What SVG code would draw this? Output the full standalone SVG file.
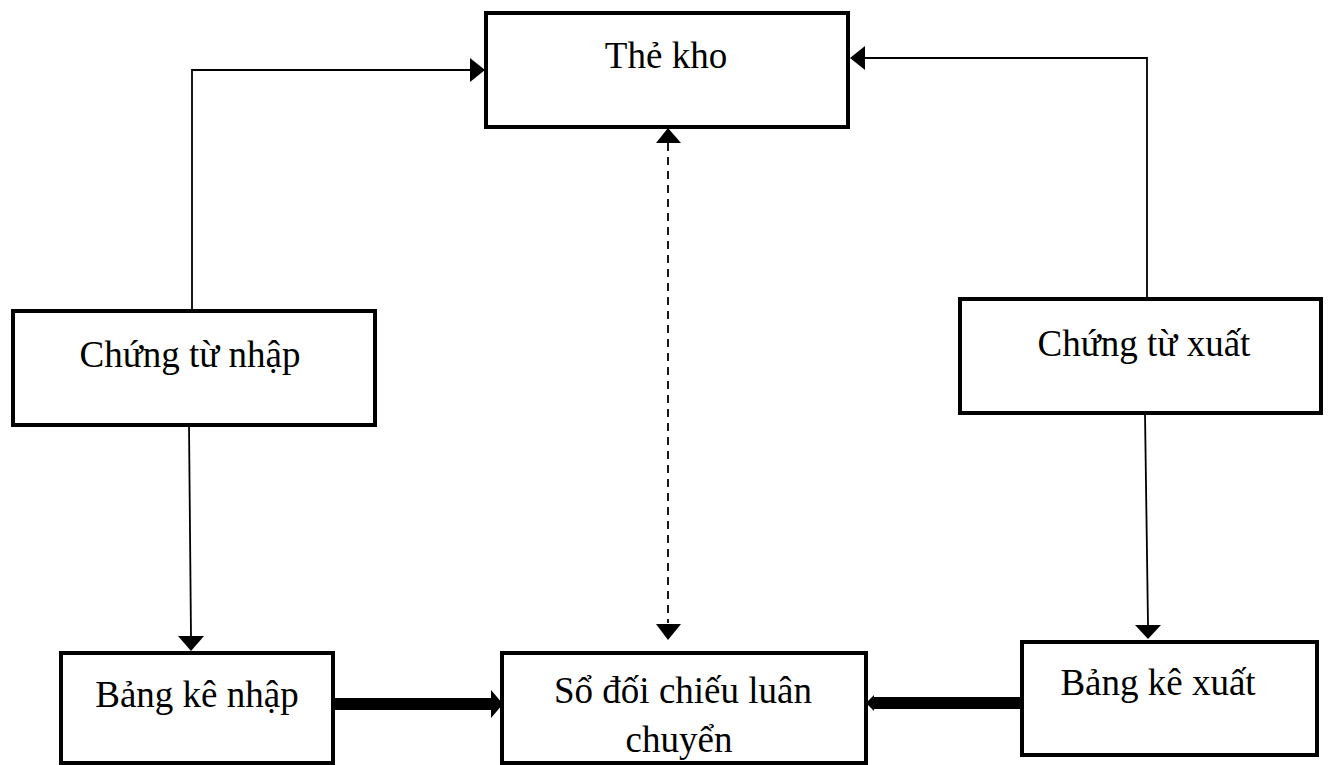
<svg xmlns="http://www.w3.org/2000/svg" width="1329" height="765" viewBox="0 0 1329 765">
<style>
.box{fill:#fff;stroke:#000;stroke-width:4}
.t{font-family:"Liberation Serif",serif;font-size:37px;fill:#000;text-anchor:middle}
.thin{fill:none;stroke:#000;stroke-width:1.8}
.dash{fill:none;stroke:#000;stroke-width:1.8;stroke-dasharray:8,6}
.thick{fill:none;stroke:#000;stroke-width:12}
</style>
<rect width="1329" height="765" fill="#fff"/>
<g id="connectors">
<polyline class="thin" points="192,310 192,70 470,70"/>
<path d="M470,58 L485,70 L470,82 Z"/>
<polyline class="thin" points="1147,298 1147,58 865,58"/>
<path d="M865,46 L850,58 L865,70 Z"/>
<line class="thin" x1="189" y1="425" x2="191" y2="636"/>
<path d="M178,636 L191,651 L204,636 Z"/>
<line class="thin" x1="1145" y1="413" x2="1148" y2="625"/>
<path d="M1135,625 L1148,639 L1161,625 Z"/>
<line class="dash" x1="668" y1="143" x2="668" y2="623"/>
<path d="M656,143 L668,128 L681,143 Z"/>
<path d="M656,624 L668,640 L681,624 Z"/>
<line class="thick" x1="334" y1="704" x2="492" y2="704"/>
<path d="M491,690 L503,704 L491,718 Z"/>
<line class="thick" x1="1021" y1="703" x2="874" y2="703"/>
<path d="M874,695 L866,703 L874,711 Z"/>
</g>
<g id="the-kho"><rect class="box" x="486" y="13" width="362" height="114"/><text class="t" x="666" y="68">Thẻ kho</text></g>
<g id="chung-tu-nhap"><rect class="box" x="13" y="311" width="362" height="114"/><text class="t" x="190" y="367">Chứng từ nhập</text></g>
<g id="chung-tu-xuat"><rect class="box" x="960" y="299" width="361" height="114"/><text class="t" x="1144" y="356">Chứng từ xuất</text></g>
<g id="bang-ke-nhap"><rect class="box" x="61" y="653" width="272" height="110"/><text class="t" x="197" y="707">Bảng kê nhập</text></g>
<g id="so-doi-chieu"><rect class="box" x="502" y="653" width="364" height="110"/><text class="t" x="683" y="703">Sổ đối chiếu luân</text><text class="t" x="679" y="752">chuyển</text></g>
<g id="bang-ke-xuat"><rect class="box" x="1022" y="642" width="295" height="113"/><text class="t" x="1158" y="695">Bảng kê xuất</text></g>
</svg>
